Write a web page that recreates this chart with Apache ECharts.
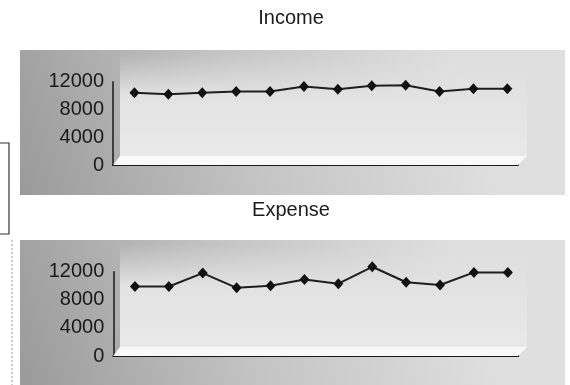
<!DOCTYPE html>
<html>
<head>
<meta charset="utf-8">
<script src="https://cdn.jsdelivr.net/npm/echarts@6/dist/echarts.min.js"></script>
<style>
  html, body { margin: 0; padding: 0; background: #ffffff; }
  #chart { width: 570px; height: 385px; }
</style>
</head>
<body>
<div id="chart"></div>
<script>
// Monthly figures for the two small panels
const months = ['Jan', 'Feb', 'Mar', 'Apr', 'May', 'Jun', 'Jul', 'Aug', 'Sep', 'Oct', 'Nov', 'Dec'];
const income = [10400, 10200, 10400, 10600, 10600, 11300, 10900, 11400, 11500, 10600, 11000, 11000];
const expense = [9900, 9900, 11800, 9700, 10000, 10900, 10300, 12700, 10500, 10100, 11900, 11900];
const yTicks = [0, 4000, 8000, 12000];
const panelTitles = ['Income', 'Expense'];

const yMin = yTicks[0];
const yMax = yTicks[yTicks.length - 1];
const yStep = yTicks[1] - yTicks[0];
const FONT = '"Liberation Sans", Arial, sans-serif';

const chart = echarts.init(document.getElementById('chart'), null, { renderer: 'canvas' });

// Panel geometry: outer box, back wall and floor of each pseudo-3D frame
const panels = [
  { top: 50, bottom: 195, frameLeft: 113, frameTop: 81.7, frameH: 83.3, dataLeft: 117.5 },
  { top: 240, bottom: 385, frameLeft: 113.3, frameTop: 271.7, frameH: 84.3, dataLeft: 118 }
];

function panelGraphics(p) {
  const base = p.frameTop + p.frameH;       // front edge of the floor
  const back = base - 9;                      // back edge of the floor
  return [
    {
      type: 'rect', z: 0,
      shape: { x: 20, y: p.top, width: 545, height: p.bottom - p.top },
      style: {
        fill: {
          type: 'linear', x: 0, y: 1, x2: 0.8, y2: 0,
          colorStops: [
            { offset: 0, color: '#9a9a9a' },
            { offset: 0.5, color: '#c4c4c4' },
            { offset: 1, color: '#dfdfdf' }
          ]
        }
      }
    },
    {
      // back wall, fading into the panel at the top
      type: 'rect', z: 1,
      shape: { x: 120, y: p.top + 4, width: 407, height: back - p.top - 4 },
      style: {
        fill: {
          type: 'linear', x: 0, y: 1, x2: 0, y2: 0,
          colorStops: [
            { offset: 0, color: '#e9e9e9' },
            { offset: 0.6, color: '#e2e2e2' },
            { offset: 1, color: 'rgba(224,224,224,0)' }
          ]
        }
      }
    },
    {
      // floor
      type: 'polygon', z: 2,
      shape: { points: [[113, base], [120, back], [527, back], [518, base]] },
      style: { fill: '#f9f9f9' }
    }
  ];
}

const graphics = [];
panels.forEach(p => graphics.push(...panelGraphics(p)));
// edge of the neighbouring box on the left
graphics.push({
  type: 'polyline', z: 3,
  shape: { points: [[-2, 143], [9, 143], [9, 234], [-2, 234]] },
  style: { stroke: '#333', lineWidth: 1.2, fill: null }
});
graphics.push({
  type: 'line', z: 3,
  shape: { x1: 12, y1: 240, x2: 12, y2: 385 },
  style: { stroke: '#9a9a9a', lineWidth: 1, lineDash: [2, 2] }
});

const grids = [];
const xAxes = [];
const yAxes = [];
const series = [];
const seriesData = [income, expense];

panels.forEach((p, i) => {
  // frame grid: visible axes
  grids.push({ left: p.frameLeft, top: p.frameTop, width: 405, height: p.frameH, z: 4 });
  xAxes.push({
    type: 'category', data: months, gridIndex: grids.length - 1,
    axisLine: { show: true, lineStyle: { color: '#1a1a1a', width: 2 } },
    axisTick: { show: false }, axisLabel: { show: false }, splitLine: { show: false }
  });
  yAxes.push({
    type: 'value', gridIndex: grids.length - 1, min: yMin, max: yMax, interval: yStep,
    axisLine: { show: true, lineStyle: { color: '#1a1a1a', width: 1.5 } },
    axisTick: { show: false }, splitLine: { show: false },
    axisLabel: {
      color: '#1a1a1a', fontSize: 20, fontFamily: FONT, margin: 9,
      formatter: v => String(v)
    }
  });
  // data grid: series placed at mid depth
  grids.push({ left: p.dataLeft, top: p.frameTop, width: 406.8, height: p.frameH, z: 5 });
  xAxes.push({ type: 'category', data: months, gridIndex: grids.length - 1, show: false });
  yAxes.push({ type: 'value', gridIndex: grids.length - 1, min: yMin, max: yMax, interval: yStep, show: false });
  series.push({
    name: panelTitles[i], type: 'line', data: seriesData[i],
    xAxisIndex: grids.length - 1, yAxisIndex: grids.length - 1,
    clip: false, z: 6,
    symbol: 'diamond', symbolSize: [10, 11], showAllSymbol: true,
    lineStyle: { color: '#1f1f1f', width: 2 },
    itemStyle: { color: '#111111' }
  });
});

chart.setOption({
  animation: false,
  backgroundColor: '#ffffff',
  title: [
    { text: panelTitles[0], left: 291, top: 8, textAlign: 'center', padding: 0,
      textStyle: { fontSize: 20, fontWeight: 'normal', color: '#1a1a1a', fontFamily: FONT } },
    { text: panelTitles[1], left: 291, top: 200, textAlign: 'center', padding: 0,
      textStyle: { fontSize: 20, fontWeight: 'normal', color: '#1a1a1a', fontFamily: FONT } }
  ],
  graphic: graphics,
  grid: grids,
  xAxis: xAxes,
  yAxis: yAxes,
  series: series
});
</script>
</body>
</html>
